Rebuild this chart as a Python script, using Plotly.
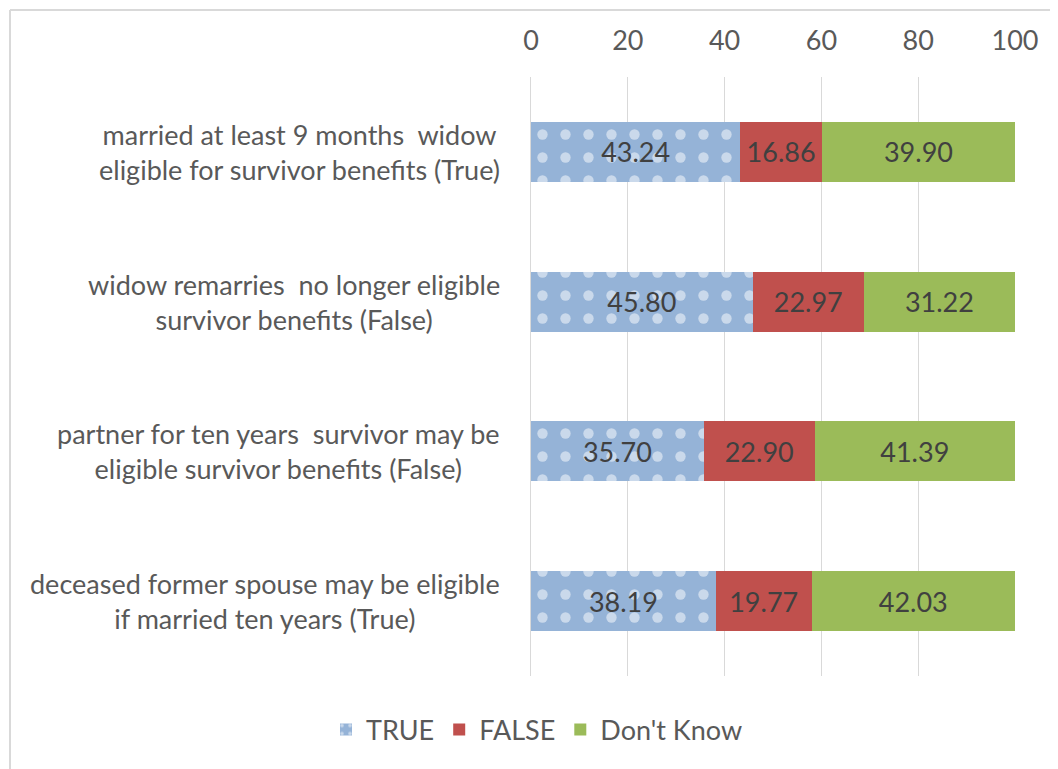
import plotly.graph_objects as go

questions = [
    "married at least 9 months  widow<br>eligible for survivor benefits (True)",
    "widow remarries  no longer eligible<br>survivor benefits (False)",
    "partner for ten years  survivor may be<br>eligible survivor benefits (False)",
    "deceased former spouse may be eligible<br>if married ten years (True)",
]
keys = ["q1", "q2", "q3", "q4"]
true_vals = [43.24, 45.80, 35.70, 38.19]
false_vals = [16.86, 22.97, 22.90, 19.77]
dont_know = [39.90, 31.22, 41.39, 42.03]

font = "Lato, Open Sans, sans-serif"
fsize = 27
fig = go.Figure()

common = dict(orientation="h", texttemplate="%{x:.2f}", textposition="inside",
              insidetextanchor="middle", constraintext="none",
              textfont=dict(size=fsize, color="#404040", family=font),
              hoverinfo="skip")

fig.add_trace(go.Bar(name="TRUE", y=keys, x=true_vals,
                     marker=dict(color="#95B3D7", line=dict(width=0),
                                 pattern=dict(shape=".", fgcolor="white", bgcolor="#95B3D7",
                                              size=23, solidity=0.16)),
                     **common))
fig.add_trace(go.Bar(name="FALSE", y=keys, x=false_vals,
                     marker=dict(color="#C0504D", line=dict(width=0)), **common))
fig.add_trace(go.Bar(name="Don't Know", y=keys, x=dont_know,
                     marker=dict(color="#9BBB59", line=dict(width=0)), **common))

# centered multi-line category labels
for k, q in zip(keys, questions):
    fig.add_annotation(x=0, y=k, xref="paper", yref="y", text=q, showarrow=False,
                       xanchor="right", align="center", xshift=-29,
                       font=dict(size=fsize, color="#595959", family=font))

# chart border (left and top edges visible)
top = (676 - 10) / 599
left = (10 - 531) / 484
fig.add_shape(type="line", xref="paper", yref="paper",
              x0=left, x1=(1070 - 531) / 484, y0=top, y1=top,
              line=dict(color="#D9D9D9", width=2))
fig.add_shape(type="line", xref="paper", yref="paper",
              x0=left, x1=left, y0=top, y1=(676 - 790) / 599,
              line=dict(color="#D9D9D9", width=2))

fig.update_layout(
    barmode="stack", bargap=0.6,
    width=1058, height=769,
    margin=dict(l=523, r=51, t=69, b=101),
    paper_bgcolor="white", plot_bgcolor="white",
    font=dict(family=font, color="#595959"),
    xaxis=dict(side="top", range=[0, 100], dtick=20, showgrid=True, gridcolor="#D9D9D9",
               gridwidth=1, zeroline=False, showline=False, ticks="",
               tickfont=dict(size=fsize, color="#595959"), ticklabelstandoff=21),
    yaxis=dict(autorange="reversed", showticklabels=False, showgrid=False, zeroline=False,
               showline=True, linecolor="#D9D9D9", linewidth=1),
    legend=dict(orientation="h", xref="container", x=0.5, xanchor="center",
                yref="container", y=1 - 722 / 769, yanchor="middle",
                font=dict(size=fsize, color="#595959"), itemwidth=30, traceorder="normal"),
    showlegend=True,
)

fig.write_html("out.html")
